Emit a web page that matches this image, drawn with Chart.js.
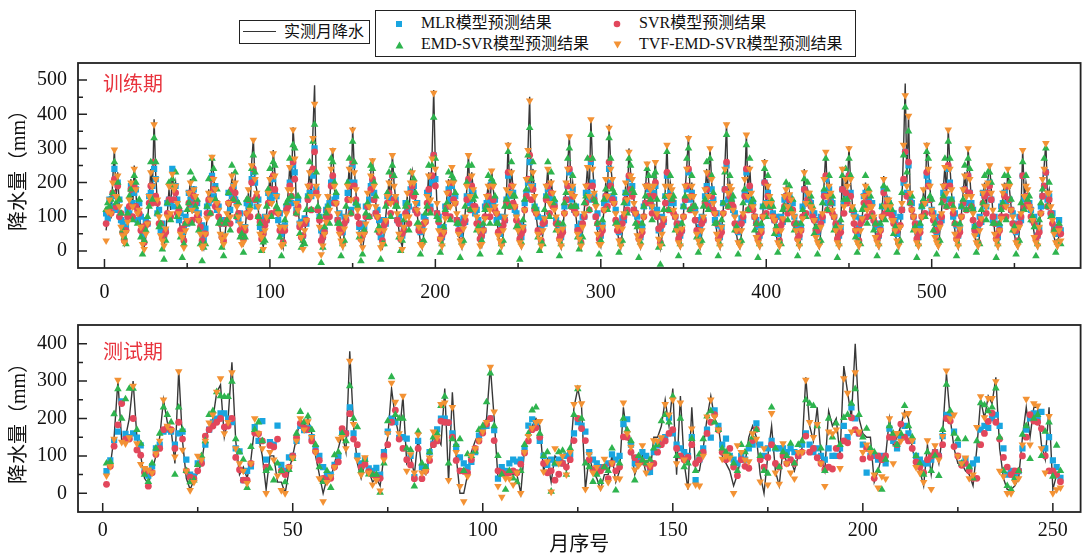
<!DOCTYPE html>
<html>
<head>
<meta charset="utf-8">
<script src="https://cdn.jsdelivr.net/npm/chart.js@4.4.1/dist/chart.umd.min.js"></script>
<style>
  html, body { margin: 0; padding: 0; background: #fff; }
  #wrap { position: relative; width: 1085px; height: 558px; overflow: hidden; }
  canvas { position: absolute; left: 0; }
  .box { position: absolute; border: 1.5px solid #222; box-sizing: border-box; background: #fff; }
  .tx { position: absolute; font: 16px 'Liberation Serif', 'Noto Sans CJK SC', serif; color: #111; white-space: nowrap; line-height: 18px; }
  .mk { position: absolute; }
</style>
</head>
<body>
<div id="wrap">
  <canvas id="train" width="1085" height="302" style="top:0"></canvas>
  <canvas id="test" width="1085" height="256" style="top:302px"></canvas>

  <div class="box" style="left:239px;top:20px;width:131px;height:24px;">
    <div style="position:absolute;left:3px;top:10px;width:33px;height:0;border-top:1.3px solid #333;"></div>
    <span class="tx" style="left:44px;top:2px;">实测月降水</span>
  </div>
  <div class="box" style="left:375px;top:10px;width:481px;height:47px;">
    <svg class="mk" style="left:19px;top:9px" width="8" height="8"><rect x="1" y="1" width="6" height="6" fill="#19a5e0"/></svg>
    <span class="tx" style="left:45px;top:3px;">MLR模型预测结果</span>
    <svg class="mk" style="left:19px;top:30px" width="9" height="8"><polygon points="4.5,0.5 8.5,7.5 0.5,7.5" fill="#2eb44e"/></svg>
    <span class="tx" style="left:45px;top:24px;">EMD-SVR模型预测结果</span>
    <svg class="mk" style="left:237px;top:9px" width="8" height="8"><circle cx="4" cy="4" r="3.3" fill="#e2475c"/></svg>
    <span class="tx" style="left:263px;top:3px;">SVR模型预测结果</span>
    <svg class="mk" style="left:237px;top:30px" width="9" height="8"><polygon points="0.5,0.5 8.5,0.5 4.5,7.5" fill="#f39234"/></svg>
    <span class="tx" style="left:263px;top:24px;">TVF-EMD-SVR模型预测结果</span>
  </div>
</div>

<script>
// ---------- training period (monthly precipitation, mm) ----------
const trainObs = [
  60,105,160,95,210,300,150,230,120,80,35,18,
  45,90,140,210,120,250,170,100,130,60,25,12,
  40,85,150,240,180,385,220,140,90,55,22,8,
  55,110,180,120,235,170,200,130,100,60,30,15,
  50,95,160,210,110,190,150,120,80,40,18,5,
  40,100,180,140,280,220,170,150,110,60,28,12,
  55,100,150,90,230,180,210,120,110,70,30,18,
  60,120,170,110,260,330,200,180,120,60,30,12,
  50,110,160,220,130,295,230,150,100,60,25,8,
  60,120,170,250,190,362,280,130,130,70,30,15,
  50,100,180,240,150,350,485,200,150,80,25,6,
  40,90,150,110,250,302,180,150,100,60,22,8,
  55,110,180,250,140,363,240,170,110,60,20,4,
  40,90,160,120,230,271,180,140,90,50,18,8,
  50,100,150,210,130,284,200,150,100,60,28,12,
  60,110,160,90,210,235,190,150,110,60,26,8,
  50,90,150,230,140,280,471,250,130,70,28,8,
  45,100,160,210,120,250,190,150,100,60,22,8,
  55,110,180,284,150,230,170,130,90,50,24,12,
  50,100,150,200,110,240,180,140,100,55,22,8,
  50,110,170,318,160,240,180,140,90,50,18,8,
  60,130,200,300,451,180,240,150,100,60,28,8,
  50,100,180,245,130,210,160,130,90,50,22,8,
  55,120,190,250,340,160,200,150,100,60,28,8,
  60,120,180,250,150,388,250,180,120,60,28,12,
  60,130,200,150,370,250,200,150,100,60,26,8,
  55,120,190,140,300,230,200,150,100,55,22,8,
  50,110,180,261,200,170,120,200,266,120,45,8,
  40,100,180,316,150,200,170,130,90,50,18,8,
  55,110,180,250,338,150,200,150,100,60,22,8,
  50,110,170,240,150,305,200,150,100,60,22,8,
  60,120,250,375,160,200,170,130,90,50,18,8,
  50,120,200,343,150,250,160,120,90,50,18,8,
  50,110,269,130,200,150,130,110,80,50,18,8,
  50,100,150,186,120,170,140,120,90,50,22,8,
  50,100,240,130,180,160,140,110,80,50,18,8,
  60,120,200,295,150,200,160,130,90,50,18,8,
  60,246,120,220,180,307,200,140,90,50,18,8,
  50,100,150,200,110,160,140,120,90,50,18,8,
  50,110,219,120,160,140,120,100,80,50,22,8,
  60,150,300,490,200,400,160,130,90,50,18,8,
  50,110,170,130,317,250,180,130,90,50,18,8,
  60,120,180,250,160,360,250,170,110,60,22,8,
  55,110,170,230,150,304,220,150,100,55,18,8,
  50,100,160,200,120,210,253,180,110,60,22,8,
  50,100,160,200,120,243,180,130,90,50,18,8,
  60,120,300,150,200,170,140,110,80,50,18,8,
  60,120,200,250,318,160,180,120,80,40,18,8,
  50,40
];
const trainMLR = [
  110,95,150,130,160,240,120,200,150,90,85,60,
  70,120,110,190,140,170,180,90,140,100,45,70,
  90,80,160,170,190,240,210,110,120,60,80,40,
  60,140,150,140,240,130,190,150,90,110,50,65,
  100,80,170,150,130,180,120,140,110,60,75,35,
  65,130,140,150,220,160,190,120,130,90,45,80,
  90,85,170,120,160,190,150,140,90,110,70,40,
  70,140,130,140,210,230,200,130,150,70,90,55,
  100,90,170,160,150,210,170,160,90,110,50,70,
  75,130,140,200,140,250,230,120,150,80,85,45,
  95,80,160,170,160,220,300,180,120,100,60,40,
  60,120,130,140,200,210,150,160,90,110,75,55,
  100,90,170,200,120,250,200,140,130,70,50,80,
  70,130,130,150,190,200,170,110,120,90,40,60,
  90,80,160,160,150,220,150,150,90,100,80,45,
  65,140,120,130,180,170,190,120,140,70,55,75,
  100,90,170,170,130,200,280,210,110,100,70,40,
  70,130,130,180,150,190,150,160,90,80,50,85,
  95,85,160,200,140,180,170,110,120,90,75,45,
  60,130,140,150,130,200,140,150,90,100,50,70,
  100,90,150,220,160,170,170,120,110,70,80,40,
  70,140,170,200,260,180,190,130,120,100,55,65,
  95,80,160,180,150,160,150,140,90,80,75,40,
  65,130,150,190,230,150,180,120,130,70,50,80,
  100,100,170,170,150,260,200,160,100,110,70,45,
  75,140,160,150,240,200,160,150,120,80,55,70,
  95,90,170,140,210,170,190,120,110,100,80,40,
  70,130,140,190,180,140,130,170,190,120,60,65,
  100,85,160,220,140,170,150,140,100,70,80,45,
  60,130,150,180,230,150,170,130,120,90,50,70,
  100,90,160,190,140,220,180,150,90,110,75,40,
  70,140,180,250,150,170,150,120,110,70,55,80,
  95,90,170,230,150,180,140,140,100,90,70,45,
  65,130,200,140,170,130,140,110,90,100,50,70,
  100,85,150,160,130,160,120,140,100,70,80,40,
  70,130,180,140,160,150,140,110,110,90,55,70,
  100,90,170,210,140,180,150,140,100,70,80,45,
  70,180,140,170,160,220,170,120,110,100,50,70,
  95,90,160,170,130,150,140,140,90,70,80,45,
  65,130,180,130,150,140,120,110,110,90,50,70,
  100,120,200,290,170,250,150,140,100,70,80,40,
  70,130,140,140,220,200,150,120,110,90,55,70,
  100,90,170,190,150,240,200,150,100,110,75,45,
  65,130,140,180,140,220,170,140,120,70,50,75,
  100,85,170,160,130,170,200,150,90,100,80,40,
  70,130,140,170,140,190,150,120,110,80,55,70,
  100,90,220,150,160,140,140,120,90,100,75,45,
  65,130,160,190,230,150,160,110,110,70,50,70,
  90,60
];
const trainSVR = [
  80,120,120,110,170,210,130,190,100,110,55,30,
  60,100,130,180,100,190,130,120,110,60,70,25,
  75,80,140,190,140,260,160,140,80,80,40,45,
  55,110,150,100,190,150,170,110,120,60,65,30,
  80,85,140,170,90,160,140,100,90,70,30,50,
  50,110,150,110,210,180,130,140,100,80,40,30,
  80,90,140,80,180,150,170,100,110,60,65,35,
  60,110,150,100,200,240,150,160,100,85,35,50,
  75,90,140,180,110,220,180,120,110,60,60,25,
  60,120,130,190,160,260,210,110,130,70,40,45,
  80,90,150,190,120,240,290,170,120,90,30,40,
  55,100,120,100,190,220,140,140,90,65,55,25,
  80,90,150,190,110,260,190,150,100,80,35,45,
  55,100,130,100,180,210,150,110,100,55,60,30,
  75,85,140,170,110,220,150,140,90,80,35,50,
  60,110,130,80,170,190,160,120,110,60,60,25,
  80,85,140,180,120,220,280,190,110,85,35,45,
  55,110,130,170,100,200,150,140,90,60,60,30,
  80,90,150,210,120,190,130,130,80,80,35,45,
  60,100,130,160,100,190,150,120,110,55,60,25,
  75,90,140,230,130,190,140,130,90,75,35,50,
  60,120,160,210,280,150,180,120,110,60,55,30,
  80,85,150,190,110,170,130,130,80,80,35,45,
  55,110,150,190,240,130,160,120,110,60,60,25,
  80,100,140,190,120,270,190,150,100,80,35,50,
  60,120,160,130,260,190,150,140,90,60,60,30,
  80,100,150,120,220,180,160,120,110,80,35,45,
  55,100,140,190,160,140,110,160,200,100,65,25,
  75,90,140,230,120,160,150,110,100,80,35,50,
  60,100,150,190,240,120,160,130,90,60,60,30,
  80,90,140,180,130,220,160,120,110,80,35,45,
  55,110,180,260,130,160,140,130,80,60,60,25,
  80,100,160,240,120,190,130,120,100,80,35,50,
  55,100,200,110,160,130,130,100,90,60,60,30,
  75,90,130,160,110,150,120,120,80,80,35,45,
  60,100,180,110,150,140,130,100,90,60,60,25,
  80,100,160,220,120,160,140,110,100,80,35,50,
  55,180,110,170,140,220,160,120,80,60,60,30,
  80,90,140,160,100,140,130,110,90,80,35,45,
  60,100,170,110,140,130,110,100,80,60,60,25,
  75,120,210,290,160,260,140,120,100,80,35,50,
  55,100,140,110,230,190,150,110,90,60,60,30,
  80,100,150,190,130,250,190,140,110,80,35,45,
  55,100,140,180,120,220,170,130,90,60,60,25,
  80,90,140,160,110,170,190,150,100,80,35,50,
  60,100,130,160,100,190,150,120,80,60,60,30,
  80,100,220,130,160,140,130,100,90,80,35,45,
  55,110,160,190,230,130,150,110,80,60,60,25,
  70,50
];
const trainEMD = [
  120,140,130,150,170,260,140,200,150,110,60,40,
  20,110,160,180,90,220,200,80,150,40,-10,30,
  60,100,130,260,150,330,260,110,70,80,5,-25,
  30,140,200,90,210,190,230,100,130,40,-20,20,
  80,120,140,230,80,210,130,150,60,20,-30,10,
  20,130,210,110,270,240,150,180,80,90,10,-15,
  80,90,170,60,250,150,230,100,140,40,50,-5,
  40,150,150,130,240,280,230,150,100,80,0,25,
  30,130,180,240,100,260,250,130,120,40,-15,20,
  90,140,150,270,160,310,300,110,160,50,10,30,
  20,120,160,260,120,320,370,230,130,100,-35,10,
  70,110,130,80,270,260,200,170,80,80,-15,20,
  30,130,200,270,110,320,260,140,130,40,-30,-10,
  60,110,140,100,250,240,200,160,60,70,-25,20,
  20,130,170,230,100,250,220,130,130,40,0,30,
  90,130,140,60,230,200,210,170,80,80,-10,25,
  30,110,130,250,110,250,390,270,100,90,-5,20,
  70,120,140,230,90,220,210,170,80,80,-20,25,
  30,130,200,250,120,250,150,160,60,70,-10,30,
  80,120,130,220,80,210,200,160,80,80,-5,20,
  30,130,150,290,130,260,160,160,70,70,-25,25,
  90,150,180,280,360,210,260,130,120,40,0,25,
  20,120,160,260,100,230,140,150,60,80,-15,20,
  80,140,170,270,300,130,220,130,130,40,5,25,
  40,140,160,270,120,340,270,150,140,80,-10,30,
  90,150,180,120,330,270,180,170,80,80,-5,20,
  30,140,170,110,270,250,180,170,80,70,-20,25,
  80,130,160,240,220,150,90,220,230,150,10,-40,
  20,120,160,290,120,220,150,160,60,70,-15,20,
  80,130,160,270,300,120,220,130,130,40,-5,25,
  30,130,150,260,120,270,220,170,80,80,-15,20,
  90,140,230,340,130,220,150,160,60,70,-10,25,
  30,140,180,310,120,270,140,150,60,80,-20,20,
  80,130,240,100,220,130,150,130,50,70,-5,25,
  20,120,130,200,90,190,120,150,60,80,-15,20,
  80,120,210,100,200,140,160,130,50,70,-10,25,
  30,140,180,270,120,220,140,160,60,70,-20,20,
  90,220,150,240,150,270,220,120,120,40,-5,25,
  20,120,130,220,80,180,160,100,60,80,-15,20,
  80,130,190,90,180,120,140,120,50,70,-5,25,
  30,170,280,420,230,350,140,160,60,70,-20,20,
  80,130,150,100,290,270,160,150,60,80,-10,25,
  30,140,160,270,130,320,270,150,130,80,-15,20,
  80,130,150,250,120,270,240,130,120,70,-5,25,
  20,120,140,220,90,230,230,200,80,80,-20,20,
  80,120,140,220,90,220,200,150,60,70,-10,25,
  30,140,260,120,220,150,160,90,100,70,-15,20,
  90,140,180,270,300,130,200,100,100,60,-5,25,
  80,20
];
const trainTVF = [
  30,115,150,110,200,296,160,220,130,70,45,25,
  55,85,150,200,130,240,180,110,120,70,20,5,
  50,80,160,230,190,370,210,150,100,45,30,15,
  65,100,190,110,225,180,190,140,110,50,40,10,
  60,90,170,200,120,180,160,110,90,50,10,15,
  50,95,170,150,275,210,180,140,120,50,35,20,
  45,110,140,100,220,190,200,130,100,80,20,25,
  70,110,180,120,250,325,210,170,130,50,40,5,
  60,100,170,210,140,285,220,160,110,70,15,20,
  70,110,180,245,180,355,270,140,120,80,40,5,
  60,90,190,230,160,330,430,190,160,70,-10,15,
  50,85,160,120,240,295,190,140,110,50,30,15,
  65,100,190,240,150,355,230,180,120,50,30,10,
  50,80,170,130,220,265,190,130,100,60,10,20,
  60,90,160,200,140,280,190,160,110,50,35,5,
  70,100,170,100,200,230,200,140,120,70,20,15,
  60,85,160,220,150,270,462,240,140,60,35,15,
  55,95,170,200,130,245,200,140,110,50,30,15,
  65,100,190,280,160,220,180,120,100,60,15,20,
  60,95,160,190,120,235,190,130,110,45,30,15,
  60,100,180,310,170,230,190,130,100,60,25,15,
  70,120,210,295,440,190,230,160,110,50,35,15,
  60,95,190,240,140,200,170,120,100,60,30,15,
  65,110,200,240,335,170,190,160,110,50,35,15,
  70,110,190,245,160,385,240,170,130,50,20,20,
  70,120,210,160,360,240,210,140,110,70,30,15,
  65,110,200,150,290,220,210,140,110,45,30,15,
  60,100,190,255,190,180,130,190,260,110,35,15,
  50,95,190,310,160,190,180,120,100,60,25,15,
  65,100,190,240,330,160,190,160,110,50,30,15,
  60,100,180,230,160,300,210,140,110,50,30,15,
  70,110,240,370,170,190,180,120,100,60,25,15,
  60,110,210,340,160,240,170,130,100,40,25,15,
  60,100,260,140,190,160,140,100,90,60,25,15,
  60,95,160,180,130,165,150,110,100,60,30,15,
  60,95,230,140,170,170,130,120,90,40,25,15,
  70,110,210,290,160,190,170,120,100,60,25,15,
  70,240,130,210,190,300,210,130,100,60,25,15,
  60,95,160,190,120,170,130,130,100,40,25,15,
  60,100,210,130,150,150,130,90,90,60,30,15,
  70,140,310,455,190,395,170,120,100,60,25,15,
  60,100,180,140,310,240,190,120,100,40,25,15,
  70,110,190,245,170,355,240,180,120,50,30,15,
  65,100,180,220,160,300,210,160,110,45,25,15,
  60,95,170,190,130,200,250,170,120,50,30,15,
  60,95,170,190,130,240,190,120,100,60,25,15,
  70,110,295,160,190,180,130,120,90,40,25,15,
  70,110,210,240,315,170,170,130,90,50,25,15,
  60,30
];

// ---------- testing period ----------
const testObs = [
  55,75,150,300,140,150,200,300,150,100,40,25,
  60,100,150,250,190,170,80,330,140,40,10,35,
  55,80,150,170,200,270,290,150,200,350,140,50,
  70,40,90,180,150,100,10,100,100,30,30,0,
  60,100,150,200,180,200,160,100,50,0,40,40,
  80,120,160,110,380,180,80,40,80,60,30,40,
  20,100,150,280,200,150,260,80,100,50,150,60,
  50,100,150,150,130,280,30,270,100,0,0,50,
  110,140,160,180,200,340,200,40,50,50,50,50,
  50,0,120,150,180,200,180,60,90,30,100,90,
  90,60,100,230,280,230,10,100,60,40,10,50,
  50,100,30,60,230,150,120,50,80,100,50,50,
  150,150,180,250,180,280,50,260,80,10,230,60,
  60,120,200,260,200,180,100,80,60,20,50,100,
  80,150,180,150,50,0,100,180,60,20,120,80,
  90,60,100,120,310,180,140,230,100,60,220,180,
  200,100,340,270,200,400,200,160,150,150,30,60,
  100,100,200,130,150,180,220,200,120,80,60,20,
  130,50,120,80,160,320,200,120,80,80,60,50,
  20,120,250,200,260,240,310,120,40,10,10,20,
  40,150,230,150,230,230,130,90,230,10,50,40
];
const testMLR = [
  59,88,142,165,246,159,150,160,149,128,63,47,
  72,120,130,165,170,165,130,160,165,90,50,45,
  80,85,130,170,190,200,214,214,200,190,120,112,
  35,60,72,177,140,193,90,137,130,181,76,60,
  96,100,140,180,169,175,150,120,100,70,47,50,
  76,100,165,160,230,160,100,80,90,67,60,68,
  50,110,165,200,190,148,150,146,100,43,140,70,
  70,110,133,171,200,200,189,160,124,96,80,70,
  84,110,154,170,180,200,169,39,70,60,80,90,
  85,90,120,181,198,180,140,100,76,90,80,90,
  80,100,104,160,190,181,165,110,90,80,70,70,
  80,104,90,100,185,198,130,80,96,110,100,57,
  110,128,140,150,202,160,130,120,110,100,150,35,
  90,120,170,149,222,180,130,146,100,90,80,100,
  90,120,130,187,130,100,120,140,120,120,120,110,
  120,110,100,130,160,130,110,120,100,90,120,100,
  100,120,180,150,230,200,160,130,55,100,100,90,
  100,80,173,140,120,150,180,160,140,100,90,80,
  80,90,110,100,153,210,210,165,130,80,90,70,
  80,90,170,180,175,200,210,180,120,50,60,43,
  59,120,170,200,214,200,218,120,150,88,70,41
];
const testSVR = [
  24,72,126,183,240,145,145,200,116,102,55,19,
  55,104,120,170,177,170,120,190,145,60,43,39,
  60,80,153,170,180,190,200,177,180,200,96,63,
  35,35,80,161,159,140,70,128,124,145,60,50,
  70,100,150,187,175,170,140,112,88,40,35,40,
  70,84,173,160,213,145,130,70,78,58,50,45,
  40,100,130,190,222,145,120,90,76,39,120,39,
  60,88,130,140,193,190,189,150,88,60,59,55,
  90,120,140,161,185,200,141,60,55,50,55,60,
  55,78,108,140,170,175,150,80,55,60,35,51,
  80,70,90,141,200,173,141,90,63,55,60,70,
  39,80,60,70,151,150,110,95,80,85,80,70,
  80,110,130,140,160,170,120,100,90,96,130,80,
  90,110,160,190,210,169,110,90,120,70,47,90,
  72,67,141,171,90,70,96,130,80,70,100,80,
  90,80,100,110,153,110,120,95,80,63,70,65,
  120,100,140,135,202,170,160,92,120,96,40,100,
  90,100,150,150,130,185,150,140,120,84,70,55,
  90,100,110,100,130,200,193,125,100,75,80,60,
  40,40,130,160,192,214,190,145,96,70,50,60,
  60,100,150,210,193,190,173,100,60,60,50,31
];
const testEMD = [
  80,84,212,279,200,252,280,280,170,133,50,31,
  80,120,160,230,210,190,50,230,170,60,30,35,
  76,100,140,210,220,271,260,258,258,299,145,110,
  90,15,124,170,190,140,60,67,35,80,60,30,
  63,92,160,218,190,206,170,130,70,31,60,15,
  102,110,160,140,287,200,177,60,90,51,50,50,
  2,80,193,311,210,200,200,120,116,19,165,80,
  70,110,150,160,234,259,80,145,130,145,60,105,
  100,112,170,180,244,321,180,100,50,10,60,40,
  30,60,130,160,222,230,160,100,110,5,80,110,
  114,50,120,210,279,200,80,70,31,50,31,70,
  60,120,8,80,200,169,140,35,100,88,80,90,
  120,130,193,210,190,259,100,200,70,80,146,60,
  104,145,206,220,190,170,120,110,100,80,60,130,
  110,130,150,170,100,60,53,230,120,70,110,100,
  133,80,130,140,249,240,234,180,120,60,200,150,
  187,130,202,210,240,279,210,150,173,120,110,60,
  10,90,180,160,130,160,234,180,150,100,80,50,
  110,60,100,47,170,291,220,160,145,80,145,70,
  40,140,241,236,220,230,281,150,60,20,10,40,
  60,157,180,92,200,210,100,165,190,45,128,60
];
const testTVF = [
  47,72,145,303,137,133,149,287,133,78,67,63,
  55,106,140,250,180,169,98,326,116,60,8,30,
  100,90,140,189,210,271,307,160,190,323,120,80,
  60,27,80,200,160,120,0,110,90,47,8,0,
  70,95,140,200,170,192,150,110,40,-22,30,45,
  70,145,150,120,354,185,90,50,96,55,23,35,
  7,90,160,295,244,160,260,60,104,55,157,55,
  59,95,165,149,238,242,35,230,110,19,-22,45,
  100,120,141,165,190,338,218,19,-10,40,39,23,
  55,0,110,153,175,190,193,58,85,4,120,80,
  100,50,110,238,283,240,11,104,55,70,15,92,
  30,81,40,39,242,160,124,63,75,128,55,75,
  141,140,149,238,210,250,80,242,90,20,173,23,
  20,100,205,250,205,170,92,100,95,0,128,110,
  90,85,160,145,31,120,23,214,55,25,133,80,
  55,39,110,110,303,190,150,185,80,19,165,160,
  170,67,307,268,165,323,165,110,130,110,50,15,
  45,39,200,80,161,140,210,214,141,70,55,30,
  141,11,128,90,153,328,200,210,100,80,95,40,
  50,177,259,203,254,254,299,60,45,0,0,30,
  40,130,252,130,240,234,120,55,206,0,10,15
];

// axis ticks
const trainXTicks = [0, 100, 200, 300, 400, 500];
const trainXMinor = [50, 150, 250, 350, 450, 550];
const trainYTicks = [0, 100, 200, 300, 400, 500];
const trainYMinor = [50, 150, 250, 350, 450];
const testXTicks = [0, 50, 100, 150, 200, 250];
const testXMinor = [25, 75, 125, 175, 225];
const testYTicks = [0, 100, 200, 300, 400];
const testYMinor = [50, 150, 250, 350];

const FONT = "'Liberation Serif', 'Noto Sans CJK SC', serif";

// inward ticks, frame and the red period label
const frameTicks = {
  id: 'frameTicks',
  afterDraw(chart, args, o) {
    const { ctx, chartArea: a } = chart;
    const xs = chart.scales.x, ys = chart.scales.y;
    ctx.save();
    ctx.strokeStyle = '#222';
    ctx.lineWidth = 1.5;
    ctx.beginPath();
    o.xMajor.forEach(v => { const p = xs.getPixelForValue(v); ctx.moveTo(p, a.bottom); ctx.lineTo(p, a.bottom - 9); });
    o.xMinor.forEach(v => { const p = xs.getPixelForValue(v); ctx.moveTo(p, a.bottom); ctx.lineTo(p, a.bottom - 5); });
    o.yMajor.forEach(v => { const p = ys.getPixelForValue(v); ctx.moveTo(a.left, p); ctx.lineTo(a.left + 9, p); });
    o.yMinor.forEach(v => { const p = ys.getPixelForValue(v); ctx.moveTo(a.left, p); ctx.lineTo(a.left + 5, p); });
    ctx.stroke();
    ctx.lineWidth = 1.8;
    ctx.strokeRect(a.left, a.top, a.right - a.left, a.bottom - a.top);
    ctx.fillStyle = '#e8333d';
    ctx.font = "20px 'Noto Sans CJK SC'";
    ctx.textBaseline = 'middle';
    ctx.textAlign = 'left';
    ctx.fillText(o.label, a.left + 25, a.top + o.labelDy);
    ctx.restore();
  }
};

function buildSets(obs, mlr, svr, emd, tvf) {
  const pts = arr => arr.map((v, i) => ({ x: i + 1, y: v }));
  const dot = (label, data, style, color, r, order, rot) => ({
    label, data: pts(data), showLine: false, pointStyle: style, rotation: rot || 0,
    pointRadius: r, backgroundColor: color, borderColor: color, pointBorderWidth: 0, order
  });
  return [
    dot('TVF-EMD-SVR模型预测结果', tvf, 'triangle', '#f39234', 4.4, 0, 180),
    dot('EMD-SVR模型预测结果', emd, 'triangle', '#2eb44e', 4.4, 1),
    dot('SVR模型预测结果', svr, 'circle', '#e2475c', 3.4, 2),
    dot('MLR模型预测结果', mlr, 'rect', '#19a5e0', 4.4, 3),
    { label: '实测月降水', data: pts(obs), showLine: true, pointRadius: 0,
      borderColor: '#383838', borderWidth: 1.4, order: 4 }
  ];
}

function makeChart(id, cfg) {
  return new Chart(document.getElementById(id), {
    type: 'scatter',
    data: { datasets: buildSets(cfg.obs, cfg.mlr, cfg.svr, cfg.emd, cfg.tvf) },
    plugins: [frameTicks],
    options: {
      responsive: false,
      animation: false,
      devicePixelRatio: 1,
      events: [],
      layout: { padding: { top: cfg.padTop, right: 2, left: 0, bottom: 0 } },
      plugins: {
        legend: { display: false },
        tooltip: { enabled: false },
        frameTicks: { xMajor: cfg.xTicks, xMinor: cfg.xMinor, yMajor: cfg.yTicks, yMinor: cfg.yMinor,
                      label: cfg.label, labelDy: cfg.labelDy }
      },
      scales: {
        x: {
          type: 'linear', min: cfg.xMin, max: cfg.xMax,
          grid: { display: false, drawTicks: false }, border: { display: false },
          ticks: { font: { family: FONT, size: 20 }, color: '#111', padding: cfg.xPad, autoSkip: false, maxRotation: 0 },
          title: { display: !!cfg.xTitle, text: cfg.xTitle, font: { family: FONT, size: 20 }, color: '#111', padding: 0 },
          afterBuildTicks: s => { s.ticks = cfg.xTicks.map(v => ({ value: v })); },
          afterFit: s => { s.height = cfg.xHeight; }
        },
        y: {
          min: cfg.yMin, max: cfg.yMax,
          grid: { display: false, drawTicks: false }, border: { display: false },
          ticks: { font: { family: FONT, size: 20 }, color: '#111', padding: 11, autoSkip: false },
          title: { display: true, text: '降水量（mm）', font: { family: FONT, size: 20 }, color: '#111', padding: { top: 8, bottom: 0 } },
          afterBuildTicks: s => { s.ticks = cfg.yTicks.map(v => ({ value: v })); },
          afterFit: s => { s.width = 78; }
        }
      }
    }
  });
}

makeChart('train', {
  obs: trainObs, mlr: trainMLR, svr: trainSVR, emd: trainEMD, tvf: trainTVF,
  xMin: -16, xMax: 590, yMin: -50, yMax: 550,
  xTicks: trainXTicks, xMinor: trainXMinor, yTicks: trainYTicks, yMinor: trainYMinor,
  padTop: 63, xHeight: 34, xPad: 13, label: '训练期', labelDy: 20
});

makeChart('test', {
  obs: testObs, mlr: testMLR, svr: testSVR, emd: testEMD, tvf: testTVF,
  xMin: -6.5, xMax: 257.3, yMin: -50, yMax: 450,
  xTicks: testXTicks, xMinor: testXMinor, yTicks: testYTicks, yMinor: testYMinor,
  padTop: 5, xHeight: 46, xPad: 7, xTitle: '月序号', label: '测试期', labelDy: 26
});
</script>
</body>
</html>
